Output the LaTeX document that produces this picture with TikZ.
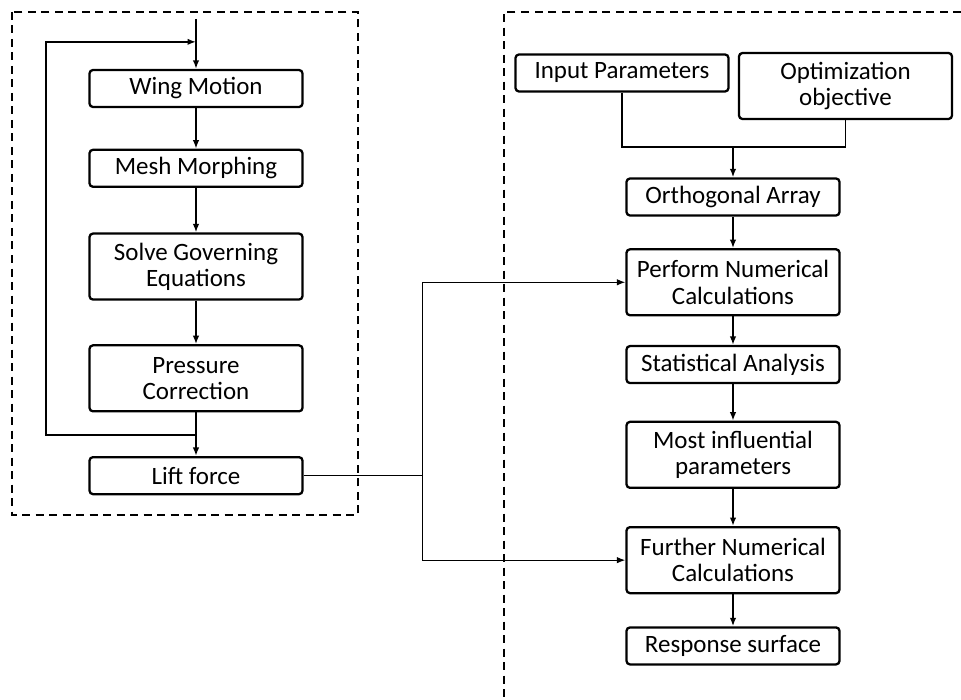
\documentclass[tikz,border=0pt]{standalone}
\usepackage{fontspec}
\setmainfont{Carlito}
\usetikzlibrary{arrows.meta, positioning, calc}

\begin{document}
\begin{tikzpicture}[
  x=0.2mm, y=0.2mm,
  font=\fontsize{14.2pt}{15pt}\selectfont,
  box/.style={rectangle, draw, rounded corners=0.7mm, line width=1.3pt, minimum width=42.6mm, minimum height=7.4mm, inner sep=2pt, align=center},
  tbox/.style={box, minimum height=13.2mm},
  frame/.style={draw, line width=0.8pt, dash pattern=on 1.6mm off 1.1mm},
  flow/.style={line width=1.1pt},
  wire/.style={line width=0.7pt},
  >={Latex[length=1.7mm, width=1.3mm]}
]
  \useasboundingbox (0,0) rectangle (961,-700);

  % Dashed frames
  \draw[frame] (12,-12) rectangle (358,-515);
  \draw[frame] (961,-12) -- (504,-12) -- (504,-700);

  % Solver loop
  \node[box] (wing) at (196,-88.5) {Wing Motion};
  \node[box, below=8.1mm of wing] (mesh) {Mesh Morphing};
  \node[tbox, below=8.9mm of mesh] (solve) {Solve Governing\\Equations};
  \node[tbox, below=8.7mm of solve] (press) {Pressure\\Correction};
  \node[box, below=8.7mm of press] (lift) {Lift force};

  \coordinate[above=10mm of wing.north] (start);
  \coordinate[above=5.4mm of wing.north] (loopin);
  \coordinate[above=4.2mm of lift.north] (tap);

  \draw[flow, ->] (start) -- (wing);
  \draw[flow, ->] (wing) -- (mesh);
  \draw[flow, ->] (mesh) -- (solve);
  \draw[flow, ->] (solve) -- (press);
  \draw[flow, ->] (press) -- (lift);
  \draw[flow, ->] (tap) -- ++(-150,0) |- (loopin);

  % Optimisation chain
  \node[box] (inp) at (622,-73) {Input Parameters};
  \node[tbox] (opt) at (845.5,-86) {Optimization\\objective};
  \node[box] (orth) at (733,-197) {Orthogonal Array};
  \node[tbox, below=6.3mm of orth] (perf) {Perform Numerical\\Calculations};
  \node[box, below=5.7mm of perf] (stat) {Statistical Analysis};
  \node[tbox, below=7.3mm of stat] (most) {Most influential\\parameters};
  \node[tbox, below=7.4mm of most] (furth) {Further Numerical\\Calculations};
  \node[box, below=6.4mm of furth] (resp) {Response surface};

  \coordinate (merge) at (733,-147);
  \draw[wire] (inp.south) |- (merge) -| (opt.south);
  \draw[flow, ->] (merge) -- (orth);
  \draw[flow, ->] (orth) -- (perf);
  \draw[flow, ->] (perf) -- (stat);
  \draw[flow, ->] (stat) -- (most);
  \draw[flow, ->] (most) -- (furth);
  \draw[flow, ->] (furth) -- (resp);

  % Lift force feeds both calculation steps
  \coordinate[right=23.8mm of lift.east] (split);
  \draw[wire] (lift.east) -- (split);
  \draw[wire, ->] (split) |- (perf.west);
  \draw[wire, ->] (split) |- (furth.west);
\end{tikzpicture}
\end{document}
